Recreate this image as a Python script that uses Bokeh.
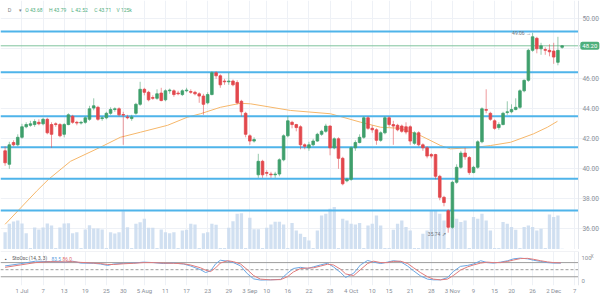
from bokeh.plotting import figure
from bokeh.models import (Range1d, FixedTicker, Label, ColumnDataSource,
                          NumeralTickFormatter, LinearAxis)
from bokeh.layouts import column
from bokeh.embed import file_html
from bokeh.resources import INLINE

# ---------------- data ----------------
opens = [41.2, 40.3, 41.75, 41.6, 42.1, 42.8, 42.9, 42.95, 43.1, 43.0,
         43.3, 42.95, 43.0, 42.95, 42.3, 42.95, 43.5, 43.1, 43.05, 43.1,
         43.3, 44.05, 44.1, 43.35, 43.4, 43.7, 43.95, 44.0, 43.62, 43.45,
         43.35, 43.7, 44.3, 45.3, 45.1, 44.75, 44.7, 45.05, 44.6, 45.2,
         45.2, 45.05, 44.95, 45.2, 45.15, 45.1, 45.0, 44.85, 44.4, 44.95,
         46.4, 46.2, 45.85, 45.8, 45.85, 45.75, 44.5, 43.7, 42.2, 41.85,
         39.6, 40.5, 39.75, 39.65, 39.6, 39.65, 40.6, 42.2, 43.1, 42.95,
         42.8, 41.6, 41.4, 41.6, 41.85, 42.3, 42.5, 42.85, 41.4, 42.0,
         40.7, 39.2, 39.3, 41.4, 41.75, 42.1, 43.4, 42.7, 42.6, 41.9,
         42.4, 43.4, 42.95, 42.9, 42.85, 42.8, 42.8, 41.7, 42.4, 41.6,
         41.4, 40.95, 40.95, 39.5, 38.1, 37.2, 36.1, 39.1, 40.1, 41.05,
         40.75, 39.75, 40.1, 41.8, 43.95, 43.7, 43.2, 42.75, 42.95, 43.75,
         43.8, 43.95, 44.1, 45.2, 45.9, 47.9, 48.7, 48.0, 47.95, 47.9,
         47.85, 47.1, 48.1]
highs = [41.5, 41.8, 41.9, 42.3, 43.0, 43.1, 43.2, 43.3, 43.3, 43.4,
         43.4, 43.1, 43.1, 43.05, 43.05, 43.7, 43.6, 43.2, 43.2, 43.5,
         44.2, 44.7, 44.2, 43.5, 43.8, 44.1, 44.1, 44.1, 43.8, 43.6,
         43.6, 44.4, 45.8, 45.4, 45.2, 44.9, 45.3, 45.4, 45.3, 45.35,
         45.3, 45.2, 45.3, 45.4, 45.3, 45.2, 45.1, 45.0, 45.1, 46.5,
         46.5, 46.3, 46.0, 46.4, 45.95, 45.9, 44.6, 43.8, 42.3, 42.1,
         41.0, 40.6, 39.9, 39.8, 39.8, 40.7, 42.3, 43.5, 43.2, 43.0,
         42.9, 41.7, 41.8, 42.0, 42.4, 42.6, 43.0, 42.9, 42.1, 42.1,
         40.8, 39.4, 41.5, 41.9, 42.3, 43.5, 43.5, 42.9, 42.7, 42.5,
         43.5, 43.5, 43.2, 43.0, 42.95, 43.1, 42.9, 42.5, 42.5, 41.7,
         41.5, 41.05, 41.0, 39.6, 38.2, 37.3, 39.2, 40.3, 41.2, 41.4,
         40.85, 40.2, 41.9, 44.1, 45.3, 43.8, 43.3, 43.1, 43.8, 44.5,
         44.3, 44.7, 45.3, 45.95, 48.0, 49.06, 48.8, 48.4, 48.1, 48.3,
         48.4, 48.8, 48.25]
lows = [40.2, 40.0, 41.5, 41.5, 42.0, 42.7, 42.8, 42.8, 42.9, 42.9,
        42.3, 41.4, 42.8, 42.1, 42.1, 42.9, 43.0, 42.9, 42.95, 43.0,
        43.2, 43.9, 43.2, 43.2, 43.3, 43.6, 43.8, 43.5, 41.6, 43.3,
        43.2, 43.6, 44.2, 44.9, 44.5, 44.6, 44.6, 44.5, 44.5, 45.0,
        44.8, 44.9, 44.85, 45.1, 45.0, 44.9, 44.4, 43.6, 44.3, 44.9,
        46.0, 45.4, 45.6, 45.6, 45.5, 44.3, 43.5, 42.1, 41.6, 41.75,
        39.4, 39.4, 39.5, 39.4, 39.4, 39.5, 40.5, 42.1, 42.7, 42.5,
        41.3, 41.3, 41.2, 41.5, 41.8, 42.2, 42.4, 40.9, 41.3, 40.0,
        38.9, 39.1, 39.2, 41.2, 41.7, 42.0, 42.6, 42.4, 41.6, 41.8,
        42.3, 42.8, 41.6, 42.5, 42.4, 42.3, 41.6, 41.6, 41.5, 41.2,
        40.7, 40.7, 39.3, 37.9, 37.5, 35.74, 36.0, 39.0, 40.0, 40.6,
        39.6, 39.7, 40.0, 41.7, 43.7, 43.2, 42.6, 42.6, 42.9, 43.6,
        43.7, 43.9, 44.0, 45.1, 45.8, 47.8, 47.7, 47.6, 47.6, 47.5,
        47.0, 46.9, 48.0]
closes = [40.4, 41.6, 41.6, 42.1, 42.8, 42.95, 43.0, 43.15, 43.0, 43.3,
          42.4, 42.3, 42.95, 42.2, 42.95, 43.6, 43.1, 43.05, 43.1, 43.4,
          44.0, 44.2, 43.3, 43.4, 43.7, 43.95, 44.0, 43.6, 43.58, 43.4,
          43.45, 44.3, 45.3, 45.1, 44.6, 44.7, 45.0, 44.55, 45.2, 45.25,
          44.95, 45.0, 45.2, 45.25, 45.1, 45.0, 44.85, 44.3, 44.95, 46.4,
          46.2, 45.6, 45.8, 45.85, 45.6, 44.4, 43.8, 42.3, 41.85, 41.95,
          40.5, 39.6, 39.7, 39.6, 39.65, 40.6, 42.2, 43.2, 42.95, 42.75,
          41.6, 41.5, 41.6, 41.85, 42.3, 42.5, 42.85, 41.4, 42.0, 40.7,
          39.0, 39.3, 41.4, 41.75, 42.1, 43.4, 42.7, 42.6, 41.9, 42.4,
          43.4, 42.95, 42.85, 42.6, 42.5, 42.45, 41.85, 42.4, 41.6, 41.4,
          40.85, 40.85, 39.5, 38.1, 37.75, 36.1, 39.1, 40.1, 41.05, 40.8,
          39.75, 40.1, 41.8, 44.0, 43.9, 43.3, 42.7, 42.95, 43.7, 43.8,
          43.95, 44.1, 45.2, 45.9, 47.9, 48.8, 48.0, 48.2, 47.9, 47.8,
          47.45, 47.9, 48.2]
volumes_k = [69, 103, 112, 116, 104, 65, 6, 88, 80, 88, 104, 96, 6,
             88, 104, 105, 65, 69, 6, 80, 97, 84, 84, 80, 6,
             69, 64, 69, 153, 89, 6, 103, 109, 123, 87, 87, 6,
             80, 69, 65, 69, 6, 76, 79, 103, 100, 6, 65, 69, 103, 99, 6, 6,
             87, 113, 143, 145, 6, 127, 81, 81, 6, 87, 100, 111, 111, 100,
             6, 106, 76, 63, 50, 36, 6, 76, 136, 143, 163, 170, 6,
             123, 116, 103, 100, 106, 6, 96, 103, 136, 96, 6, 6,
             79, 103, 116, 90, 76, 6, 6, 63, 76, 157, 157, 143, 116, 6,
             130, 123, 110, 116, 6, 130, 123, 143, 116, 76, 6, 6,
             110, 103, 90, 79, 6, 90, 96, 90, 76, 83, 6, 140, 130, 136, 3]

# 50-period moving average, read at a set of candle positions
ma_x = [0, 7.6, 10.3, 15.5, 22.6, 27.3, 32.1, 38.5, 43.2, 46.3, 51.0, 55.8,
        58.2, 67.6, 77.1, 84.2, 89.0, 93.7, 98.4, 103.2, 105.5, 110.3, 115.0,
        119.8, 125.2, 128.5, 130.9]
ma_y = [36.3, 38.55, 39.3, 40.5, 41.44, 42.1, 42.44, 42.9, 43.44, 43.67, 44.1,
        44.37, 44.33, 43.89, 43.67, 43.11, 42.77, 42.7, 42.22, 41.55, 41.33,
        41.4, 41.55, 41.77, 42.33, 42.77, 43.17]

# stochastic oscillator (14, 3, 3)
st_x = [0, 3.6, 7.2, 10.8, 14.3, 16.0, 17.9, 20.9, 22.6, 24.3, 25.7, 28.1,
        30.4, 32.8, 35.2, 37.5, 39.9, 42.3, 43.9, 46.3, 47.5, 48.7, 49.9,
        51.0, 52.7, 54.1, 55.8, 57.4, 58.9, 60.5, 62.9, 65.3, 66.9, 68.3,
        70.0, 71.7, 73.1, 74.7, 76.4, 77.8, 79.5, 80.7, 82.6, 84.2, 85.9,
        87.3, 89.0, 90.6, 92.0, 93.7, 95.4, 96.8, 98.4, 100.1, 101.5, 103.2,
        104.8, 106.2, 107.9, 109.6, 111.0, 112.7, 114.3, 115.7, 117.4, 119.1,
        120.5, 122.1, 123.8, 125.2, 126.9, 128.5, 130.0, 131.7]
st_k = [66, 75, 86, 84, 82, 86, 78, 77, 74, 68, 74, 77, 78, 82, 80, 76, 78,
        74, 66, 50, 38, 45, 75, 90, 86, 80, 66, 33, 11, 6, 7, 9, 35, 55, 60,
        55, 62, 70, 77, 62, 38, 17, 35, 70, 89, 82, 76, 82, 88, 84, 65, 45,
        24, 10, 7, 7, 16, 42, 64, 68, 74, 88, 80, 78, 82, 88, 96, 99, 96, 90,
        85, 80, 78, 78]
st_d = [60, 70, 80, 84, 83, 84, 81, 78, 76, 72, 72, 75, 77, 80, 80, 78, 77,
        75, 70, 58, 48, 42, 58, 78, 88, 84, 74, 50, 25, 10, 7, 8, 20, 40, 55,
        57, 58, 65, 73, 70, 52, 32, 25, 50, 76, 86, 80, 80, 85, 86, 76, 58,
        38, 20, 10, 7, 10, 25, 48, 62, 70, 78, 82, 80, 80, 85, 91, 97, 98, 94,
        88, 83, 80, 79]

levels = [49.15, 46.44, 43.51, 41.44, 39.33, 37.22]
last_price = 48.2
price_ticks = [36, 38, 40, 42, 44, 46, 48, 50]
x_ticks = [4, 9, 14, 19, 24, 28, 33, 38, 43, 48, 53, 58, 62, 67, 72, 77, 82,
           87, 91, 96, 101, 106, 111, 116, 120, 125, 130, 135]
x_labels = ["1 Jul", "7", "13", "19", "25", "30", "5 Aug", "11", "17", "23",
            "29", "3 Sep", "10", "16", "22", "28", "4 Oct", "10", "15", "21",
            "28", "3 Nov", "9", "15", "20", "26", "2 Dec", "7"]
header_text = ["O 43.68", "H 43.79", "L 42.52", "C 43.71", "V 125k"]

# ---------------- styling ----------------
UP = "#3f9f6c"
DN = "#e2474c"
LEVEL = "#4fb4ea"
GRID = "#eef1f6"
AXIS_TXT = "#8a8f98"
FONT = "Roboto"

X0, X1 = -1.09, 141.09      # full window width
AX = 135.87                 # where the price scale starts

n = len(opens)
xs = list(range(n))
colors = [UP if c >= o else DN for o, c in zip(opens, closes)]
src = ColumnDataSource(dict(
    x=xs, o=opens, h=highs, l=lows, c=closes,
    top=[max(o, c) for o, c in zip(opens, closes)],
    bot=[min(o, c) for o, c in zip(opens, closes)],
    col=colors, v=volumes_k))


def style_axis(ax, size="6.5px"):
    ax.major_tick_line_color = None
    ax.minor_tick_line_color = None
    ax.major_tick_out = 0
    ax.minor_tick_out = 0
    ax.major_tick_in = 0
    ax.minor_tick_in = 0
    ax.major_label_text_font_size = size
    ax.major_label_text_color = AXIS_TXT
    ax.major_label_text_font = FONT


xr = Range1d(X0, X1)
p = figure(frame_width=600, frame_height=249, x_range=xr,
           y_range=Range1d(34.62, 51.22), output_backend="svg",
           toolbar_location=None, x_axis_location=None, y_axis_location=None,
           min_border_left=0, min_border_top=0, min_border_bottom=0,
           min_border_right=0, background_fill_color="white",
           border_fill_color="white", outline_line_color=None)
p.extra_y_ranges = {"vol": Range1d(0, 996)}

pax = LinearAxis(fixed_location=AX, ticker=FixedTicker(ticks=price_ticks),
                 formatter=NumeralTickFormatter(format="0.00"))
style_axis(pax)
pax.major_label_overrides = {48: ""}
pax.axis_line_color = "#e3e6ec"
pax.major_label_standoff = 4
p.add_layout(pax, "right")

p.xgrid.grid_line_color = GRID
p.xgrid.ticker = FixedTicker(ticks=x_ticks)
p.ygrid.grid_line_color = GRID
p.ygrid.ticker = FixedTicker(ticks=price_ticks)

# volume
p.vbar(x="x", top="v", bottom=0, width=0.78, source=src, y_range_name="vol",
       fill_color="#c9dbee", line_color=None, fill_alpha=0.85)

# moving average
p.line(ma_x, ma_y, line_color="#f6b76a", line_width=1)

# horizontal levels (up to the price scale)
p.segment(x0=[X0] * len(levels), y0=levels, x1=[AX] * len(levels), y1=levels,
          line_color=LEVEL, line_width=2)
p.segment(x0=[X0], y0=[last_price], x1=[AX + 0.3], y1=[last_price],
          line_color="#7fc49d", line_width=1)

# candles
p.segment(x0="x", y0="h", x1="x", y1="l", source=src, line_color="col",
          line_alpha=0.55, line_width=1)
p.vbar(x="x", top="top", bottom="bot", width=0.62, source=src,
       fill_color="col", line_color="col", line_width=0.8)

# header
HY = 50.62
p.add_layout(Label(x=0.6, y=HY, text="D", text_font=FONT,
                   text_font_size="5.5px", text_color="#7a7f88",
                   text_baseline="middle"))
p.add_layout(Label(x=3.4, y=HY, text="▾", text_font=FONT,
                   text_font_size="5px", text_color="#7a7f88",
                   text_baseline="middle"))
for xi, txt in zip((4.8, 10.4, 15.7, 21.1, 26.4), header_text):
    p.add_layout(Label(x=xi, y=HY, text=txt, text_font=FONT,
                       text_font_size="5px", text_color="#4fae7e",
                       text_baseline="middle"))

# high / low markers
p.add_layout(Label(x=124.6, y=49.08, text="49.06 →", text_font=FONT,
                   text_font_size="5px", text_color="#6f747c",
                   text_align="right", text_baseline="middle"))
p.add_layout(Label(x=104.4, y=35.66, text="35.74 ↗", text_font=FONT,
                   text_font_size="5px", text_color="#6f747c",
                   text_align="right", text_baseline="middle"))

# last price tag on the price scale
p.add_layout(Label(x=136.3, y=last_price, text=f"{last_price:.2f}",
                   text_font=FONT, text_font_size="6px", text_color="white",
                   text_baseline="middle", background_fill_color="#4daf7c",
                   padding=2, border_radius=2))

# ---------------- stochastic panel ----------------
s = figure(frame_width=600, frame_height=34, x_range=xr,
           y_range=Range1d(-17, 127), output_backend="svg",
           toolbar_location=None, x_axis_location=None, y_axis_location=None,
           min_border_left=0, min_border_top=2, min_border_bottom=0,
           min_border_right=0, background_fill_color="white",
           border_fill_color="white", outline_line_color=None)

sx = LinearAxis(ticker=FixedTicker(ticks=x_ticks))
style_axis(sx, "6px")
sx.major_label_overrides = {t: lab for t, lab in zip(x_ticks, x_labels)}
sx.axis_line_color = None
sx.major_label_standoff = 1
s.add_layout(sx, "below")

sy = LinearAxis(fixed_location=AX, ticker=FixedTicker(ticks=[0, 100]))
style_axis(sy, "6px")
sy.axis_line_color = "#e3e6ec"
sy.major_label_standoff = 3
s.add_layout(sy, "right")

s.xgrid.grid_line_color = GRID
s.xgrid.ticker = FixedTicker(ticks=x_ticks)
s.ygrid.grid_line_color = None

# panel border (top) up to the scale
s.segment(x0=[X0], y0=[127], x1=[AX], y1=[127], line_color="#e3e6ec",
          line_width=1)
for lv, dash in ((80, "solid"), (50, "3 2"), (20, "solid")):
    s.segment(x0=[X0], y0=[lv], x1=[AX], y1=[lv], line_color="#9d9d9d",
              line_width=1, line_dash=dash)
s.line(st_x, st_k, line_color="#6ba6e3", line_width=1)
s.line(st_x, st_d, line_color="#e07b7b", line_width=1)

SY = 97
s.add_layout(Label(x=0.0, y=SY, text="▪", text_font=FONT,
                   text_font_size="5px", text_color="#555",
                   text_baseline="middle"))
s.add_layout(Label(x=1.7, y=SY, text="StoOsc (14, 3, 3)", text_font=FONT,
                   text_font_size="4.8px", text_color="#555",
                   text_baseline="middle"))
s.add_layout(Label(x=11.0, y=SY, text="83.5", text_font=FONT,
                   text_font_size="4.8px", text_color="#5a9ee0",
                   text_baseline="middle"))
s.add_layout(Label(x=13.6, y=SY, text="86.0", text_font=FONT,
                   text_font_size="4.8px", text_color="#e06a6a",
                   text_baseline="middle"))
s.add_layout(Label(x=138.7, y=110, text="X", text_font=FONT,
                   text_font_size="5px", text_color="#9a9a9a",
                   text_baseline="middle"))

layout = column(p, s, spacing=0)
open("out.html", "w").write(file_html(layout, INLINE))
